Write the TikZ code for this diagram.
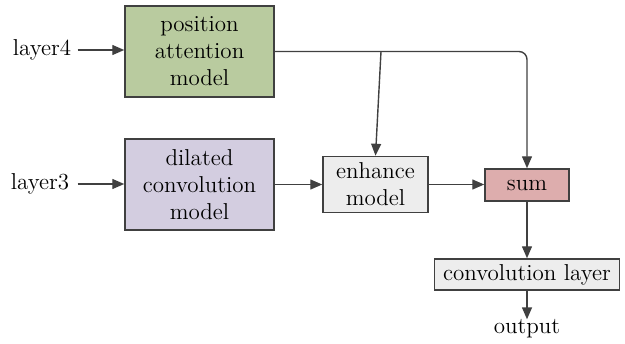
\documentclass[tikz,border=0pt]{standalone}
\usetikzlibrary{arrows.meta}
\definecolor{boxgreen}{HTML}{B9CB9F}
\definecolor{boxpurple}{HTML}{D3CDE0}
\definecolor{boxgray}{HTML}{EDEDED}
\definecolor{boxpink}{HTML}{DDADAD}
\definecolor{edge}{HTML}{404040}
\begin{document}
\begin{tikzpicture}[x=0.5pt,y=-0.5pt,
  every node/.style={font=\fontsize{11.5}{13.5}\selectfont, inner sep=0pt},
  block/.style={draw=edge, line width=0.75pt, align=center},
  link/.style={draw=edge, line width=0.7pt, -{Triangle[length=6pt,width=5pt]}}]
\useasboundingbox (0,0) rectangle (625,343);

% processing blocks
\node[block, fill=boxgreen, minimum width=74.5pt, minimum height=45.5pt] (pam) at (199.5,51.5) {position\\attention\\model};
\node[block, fill=boxpurple, minimum width=74.5pt, minimum height=45.5pt] (dcm) at (199.5,184.5) {dilated\\convolution\\model};
\node[block, fill=boxgray, minimum width=52.5pt, minimum height=28pt] (enh) at (375.5,184.5) {enhance\\model};
\node[block, fill=boxpink, minimum width=42pt, minimum height=16pt] (sum) at (527,185) {sum};
\node[block, fill=boxgray, minimum width=92.5pt, minimum height=15.5pt] (conv) at (527,274.5) {convolution layer};

% inputs and output
\node (l4) at (42,50) {layer4};
\node (l3) at (40,184) {layer3};
\node (out) at (527,329) {output};

% connectors
\draw[link] (l4.east) ++(6,0) coordinate (l4s) -- (l4s -| pam.west);
\draw[link] (l3.east) ++(8,0) coordinate (l3s) -- (l3s -| dcm.west);
\draw[link, rounded corners=4pt] (pam.east) -| (sum.north);
\coordinate (br) at (381,51.5);
\draw[link] (br) -- (enh.north);
\draw[link] (dcm.east) -- (dcm.east -| enh.west);
\draw[link] (enh.east) -- (enh.east -| sum.west);
\draw[link] (sum.south) -- (sum.south |- conv.north);
\draw[link] (conv.south) -- (out.north);
\end{tikzpicture}
\end{document}
